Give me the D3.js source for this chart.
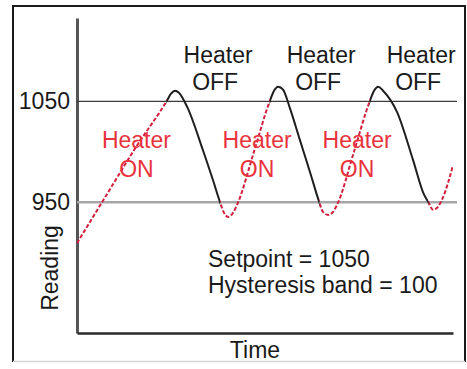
<!DOCTYPE html>
<html>
<head>
<meta charset="utf-8">
<script src="https://cdn.jsdelivr.net/npm/d3@7"></script>
<style>
  html, body { margin: 0; padding: 0; background: #fff; }
  svg { display: block; font-family: "Liberation Sans", Arial, Helvetica, sans-serif; }
</style>
</head>
<body>
<svg id="chart" width="467" height="369"></svg>
<script>
// Controller settings
const setpoint = 1050;
const hysteresisBand = 100;
const yTicks = [950, 1050];

// Sampled process reading over time (s)
const times    = [0, 6.9, 16.0, 23.9, 25.0, 26.1, 27.1, 29.3, 33.5, 36.2, 38.0, 39.1, 40.2, 41.5, 42.8, 47.1,
                  51.3, 52.4, 53.5, 54.8, 56.6, 59.3, 62.0, 64.4, 65.4, 66.8, 68.1, 69.4, 73.7, 77.9, 79.0,
                  80.1, 81.4, 85.1, 89.4, 92.3, 93.4, 94.7, 96.0, 97.3, 100];
const readings = [909, 951, 1006, 1050, 1057, 1060, 1058, 1044, 1001, 971, 950, 939, 935, 939, 949, 1000,
                  1050, 1060, 1064, 1061, 1043, 1011, 979, 950, 940, 937, 940, 949, 1000, 1050, 1060,
                  1064, 1060, 1039, 991, 957, 950, 942, 945, 954, 986];

const axisTitles = { x: "Time", y: "Reading" };
const noteLines = ["Setpoint = " + setpoint, "Hysteresis band = " + hysteresisBand];

const svg = d3.select("#chart");
const W = 467, H = 369;
const plot = { left: 77, right: 453, top: 18, bottom: 333 };

const x = d3.scaleLinear().domain([0, 100]).range([plot.left, plot.right]);
const y = d3.scaleLinear().domain([820, 1132]).range([plot.bottom, plot.top]);

const points = times.map((t, i) => ({ t, v: readings[i] }));

// Heater state with hysteresis: off at setpoint, back on at setpoint - band
const lower = setpoint - hysteresisBand;
const intervals = [];
let state = "on", start = times[0];
points.forEach(p => {
  if (state === "on" && p.v >= setpoint) { intervals.push({ state, t0: start, t1: p.t }); state = "off"; start = p.t; }
  else if (state === "off" && p.v <= lower) { intervals.push({ state, t0: start, t1: p.t }); state = "on"; start = p.t; }
});
intervals.push({ state, t0: start, t1: times[times.length - 1] });

// Frame
svg.append("rect").attr("width", W).attr("height", H).attr("fill", "#fff");
svg.append("path")
  .attr("d", `M13,362 V6 H465 V362`)
  .attr("fill", "none").attr("stroke", "#1a1a1a").attr("stroke-width", 2);
svg.append("line").attr("x1", 13).attr("x2", 465).attr("y1", 361.5).attr("y2", 361.5)
  .attr("stroke", "#d4d4d4").attr("stroke-width", 1.5);

// Y axis with band lines
const yAxis = svg.append("g").attr("transform", `translate(${plot.left},0)`)
  .call(d3.axisLeft(y).tickValues(yTicks).tickFormat(d3.format("d"))
    .tickSizeInner(-(plot.right - plot.left + 4)).tickSizeOuter(0).tickPadding(7));
yAxis.attr("font-family", null).attr("font-size", null);
yAxis.select(".domain").attr("stroke", "#555").attr("stroke-width", 3);
yAxis.selectAll(".tick line")
  .attr("stroke", d => d === setpoint ? "#3c3c3c" : "#a6a6a6")
  .attr("stroke-width", d => d === setpoint ? 1.2 : 2.5);
yAxis.selectAll(".tick text").attr("font-size", 23).attr("fill", "#1a1a1a");

// X axis (no ticks)
const xAxis = svg.append("g").attr("transform", `translate(0,${plot.bottom})`)
  .call(d3.axisBottom(x).tickValues([]).tickSizeOuter(0));
xAxis.select(".domain").attr("stroke", "#2a2a2a").attr("stroke-width", 2.5);

// Clip regions for each heater state
const defs = svg.append("defs");
["on", "off"].forEach(s => {
  defs.append("clipPath").attr("id", "clip-" + s)
    .selectAll("rect").data(intervals.filter(d => d.state === s)).join("rect")
    .attr("x", d => x(d.t0) - 0.3).attr("width", d => x(d.t1) - x(d.t0) + 0.6)
    .attr("y", 0).attr("height", H);
});

const line = d3.line().x(d => x(d.t)).y(d => y(d.v)).curve(d3.curveMonotoneX);

svg.append("path").datum(points)
  .attr("clip-path", "url(#clip-on)")
  .attr("d", line).attr("fill", "none")
  .attr("stroke", "#d21f3e").attr("stroke-width", 2).attr("stroke-dasharray", "4 2");
svg.append("path").datum(points)
  .attr("clip-path", "url(#clip-off)")
  .attr("d", line).attr("fill", "none")
  .attr("stroke", "#1e1e1e").attr("stroke-width", 2);

// Annotations: "Heater OFF" beside each peak, "Heater ON" on each mid-band crossing
const mid = setpoint - hysteresisBand / 2;
const peaks = intervals.filter(d => d.state === "off").map(iv =>
  points.filter(p => p.t >= iv.t0 && p.t <= iv.t1).reduce((a, b) => b.v > a.v ? b : a));
const crossings = intervals.filter(d => d.state === "on").map(iv => {
  const seg = points.filter(p => p.t >= iv.t0 && p.t <= iv.t1);
  for (let i = 1; i < seg.length; i++) {
    const a = seg[i - 1], b = seg[i];
    if (a.v < mid && b.v >= mid) return a.t + (mid - a.v) / (b.v - a.v) * (b.t - a.t);
  }
  return null;
}).filter(t => t !== null);

const offG = svg.append("g").attr("font-size", 23).attr("fill", "#1a1a1a").attr("text-anchor", "middle");
peaks.forEach(p => {
  const cx = x(p.t) + 43;
  offG.append("text").attr("x", cx).attr("y", y(setpoint) - 38).text("Heater");
  offG.append("text").attr("x", cx - 3).attr("y", y(setpoint) - 11).text("OFF");
});

const onG = svg.append("g").attr("font-size", 23).attr("fill", "#e8333d").attr("text-anchor", "middle");
crossings.forEach(t => {
  const cx = x(t) + 3;
  onG.append("text").attr("x", cx).attr("y", y(mid) - 3).text("Heater");
  onG.append("text").attr("x", cx).attr("y", y(mid) + 26).text("ON");
});

// Settings note
svg.append("g").attr("font-size", 23).attr("fill", "#1a1a1a")
  .selectAll("text").data(noteLines).join("text")
  .attr("x", 208).attr("y", (d, i) => 267 + i * 26).text(d => d);

// Axis titles
svg.append("text").attr("x", 255).attr("y", 358).attr("text-anchor", "middle")
  .attr("font-size", 23).attr("fill", "#1a1a1a").text(axisTitles.x);
svg.append("text").attr("transform", "translate(58,268) rotate(-90)").attr("text-anchor", "middle")
  .attr("font-size", 23).attr("fill", "#1a1a1a").text(axisTitles.y);
</script>
</body>
</html>
